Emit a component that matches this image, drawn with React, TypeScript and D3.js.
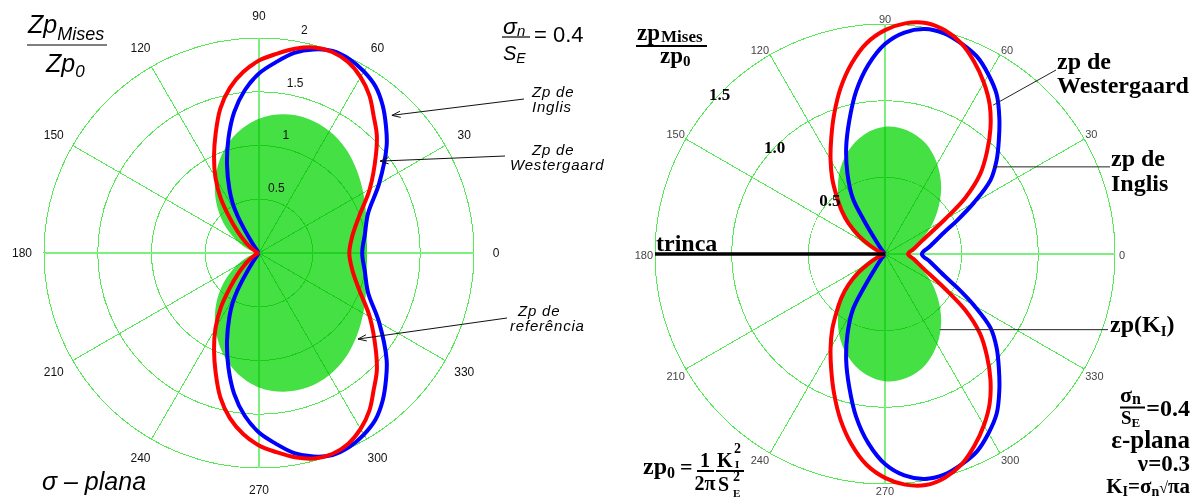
import React from 'react';
import * as d3 from 'd3';

// ---------- data (upper half, degrees 0..180; lower half is the mirror image) ----------
const spokeAngles = [0, 30, 60, 90, 120, 150, 180, 210, 240, 270, 300, 330];

const leftRings = [0.5, 1, 1.5, 2];
const leftRingLabels = ['0.5', '1', '1.5', '2'];
const rightRings = [0.5, 1.0, 1.5];
const rightRingLabels = ['0.5', '1.0', '1.5'];

// reference plastic zone (LEFM, K_I only)
const refAngles = [0, 10, 20, 30, 40, 50, 60, 70, 80, 90, 100, 110, 120, 130, 140, 150, 160, 170, 180];
const leftRef = [1.0, 1.02, 1.06, 1.12, 1.19, 1.26, 1.31, 1.33, 1.31, 1.25, 1.14, 0.99, 0.81, 0.62, 0.43, 0.25, 0.12, 0.03, 0];
const rightRef = [0.16, 0.18, 0.24, 0.34, 0.45, 0.57, 0.68, 0.77, 0.82, 0.83, 0.79, 0.71, 0.6, 0.47, 0.33, 0.2, 0.09, 0.02, 0];

// sigma-plane: Westergaard (red) and Inglis (blue)
const leftWestAngles = [0, 10, 20, 30, 40, 45, 50, 55, 60, 65, 70, 75, 80, 85, 90, 95, 100, 105, 110, 115, 120, 125, 130, 135, 140, 145, 150, 160, 170, 180];
const leftWest = [0.84, 0.88, 0.99, 1.19, 1.42, 1.55, 1.66, 1.79, 1.89, 1.96, 1.99, 1.98, 1.93, 1.86, 1.79, 1.69, 1.56, 1.39, 1.18, 0.99, 0.81, 0.62, 0.42, 0.28, 0.18, 0.11, 0.06, 0.015, 0, 0];
const leftInglisAngles = [0, 10, 20, 30, 40, 45, 50, 55, 60, 65, 70, 75, 80, 85, 90, 95, 100, 105, 110, 115, 118, 120, 122, 124, 127, 130, 140, 160, 180];
const leftInglis = [0.96, 1.0, 1.08, 1.29, 1.55, 1.67, 1.79, 1.89, 1.95, 1.99, 2.0, 1.96, 1.89, 1.78, 1.67, 1.52, 1.33, 1.1, 0.87, 0.65, 0.52, 0.4, 0.24, 0.11, 0.03, 0.01, 0, 0, 0];

// epsilon-plane: Westergaard (red) and Inglis (blue)
const rightWestAngles = [0, 10, 20, 30, 35, 40, 45, 50, 55, 60, 65, 70, 75, 80, 85, 90, 95, 100, 105, 110, 115, 120, 125, 130, 135, 140, 145, 150, 155, 160, 170, 180];
const rightWest = [0.15, 0.19, 0.26, 0.45, 0.64, 0.81, 0.94, 1.07, 1.19, 1.29, 1.38, 1.46, 1.51, 1.53, 1.51, 1.46, 1.38, 1.26, 1.12, 0.97, 0.83, 0.71, 0.6, 0.49, 0.4, 0.31, 0.21, 0.12, 0.06, 0.02, 0, 0];
const rightInglisAngles = [0, 10, 20, 25, 30, 35, 40, 45, 50, 55, 60, 65, 70, 75, 80, 85, 90, 95, 100, 105, 110, 115, 120, 122, 124, 127, 130, 140, 160, 180];
const rightInglis = [0.24, 0.3, 0.41, 0.52, 0.67, 0.84, 0.95, 1.05, 1.16, 1.27, 1.35, 1.42, 1.46, 1.49, 1.49, 1.45, 1.37, 1.24, 1.08, 0.9, 0.74, 0.58, 0.42, 0.26, 0.12, 0.04, 0.01, 0, 0, 0];

// ---------- helpers ----------
const deg = Math.PI / 180;
type Pt = [number, number];

function makePolar(cx: number, cy: number, R: number, rMax: number, rings: number[]) {
  const r = d3.scaleLinear().domain([0, rMax]).range([0, R]);
  const xy = (a: number, v: number): Pt => [cx + r(v) * Math.cos(a * deg), cy - r(v) * Math.sin(a * deg)];
  const line = d3
    .lineRadial<Pt>()
    .angle((d) => Math.PI / 2 - d[0] * deg)
    .radius((d) => r(d[1]))
    .curve(d3.curveCatmullRom.alpha(0.5));
  return { cx, cy, R, rMax, rings, r, xy, line };
}
type Polar = ReturnType<typeof makePolar>;

function mirror(angles: number[], values: number[]): Pt[] {
  const upper: Pt[] = angles.map((a, i) => [a, values[i]]);
  const lower: Pt[] = upper.slice(1).map(([a, v]) => [-a, v] as Pt).reverse();
  return [...lower, ...upper];
}

function arrowPath(x1: number, y1: number, x2: number, y2: number, len = 9, half = 0.35) {
  const ang = Math.atan2(y1 - y2, x1 - x2);
  const ax = x2 + len * Math.cos(ang + half);
  const ay = y2 + len * Math.sin(ang + half);
  const bx = x2 + len * Math.cos(ang - half);
  const by = y2 + len * Math.sin(ang - half);
  return `M${x1},${y1}L${x2},${y2}M${ax},${ay}L${x2},${y2}L${bx},${by}`;
}

const GRID = '#55ea55';
const AXIS = '#7cf07c';
const FILL = '#44e044';

function Grid({ p }: { p: Polar }) {
  return (
    <g style={{ mixBlendMode: 'multiply' }} fill="none" shapeRendering="crispEdges">
      {p.rings.map((v) => (
        <circle key={v} cx={p.cx} cy={p.cy} r={p.r(v)} stroke={GRID} strokeWidth={1} />
      ))}
      {spokeAngles.map((a) => {
        const [x, y] = p.xy(a, p.rMax);
        const axis = a % 90 === 0;
        return (
          <line key={a} x1={p.cx} y1={p.cy} x2={x} y2={y} stroke={axis ? AXIS : GRID} strokeWidth={axis ? 2 : 1} />
        );
      })}
    </g>
  );
}

function Curves({ p, refV, westA, westV, ingA, ingV }: { p: Polar; refV: number[]; westA: number[]; westV: number[]; ingA: number[]; ingV: number[] }) {
  return (
    <>
      <g transform={`translate(${p.cx},${p.cy})`}>
        <path d={p.line(mirror(refAngles, refV)) || ''} fill={FILL} stroke="none" />
      </g>
      <Grid p={p} />
      <g transform={`translate(${p.cx},${p.cy})`} fill="none" strokeLinejoin="round">
        <path d={p.line(mirror(ingA, ingV)) || ''} stroke="#0000ff" strokeWidth={4} />
        <path d={p.line(mirror(westA, westV)) || ''} stroke="#ff0000" strokeWidth={4} />
      </g>
    </>
  );
}

const SANS = 'Liberation Sans, Arial, sans-serif';
const SERIF = 'Liberation Serif, Times New Roman, serif';

export default function App() {
  const L = makePolar(259, 253, 215, 2, leftRings);
  const Rp = makePolar(885, 254, 230, 1.5, rightRings);

  // left angle labels: centred just outside the outer ring
  const leftAngleLabels = spokeAngles.map((a) => {
    const r = L.R + 22;
    return { a, x: L.cx + r * Math.cos(a * deg), y: L.cy - r * Math.sin(a * deg) };
  });

  // right angle labels: anchored at the spoke ends
  const rightAngleLabels = spokeAngles.map((a) => {
    const [x, y] = Rp.xy(a, Rp.rMax);
    const c = Math.cos(a * deg);
    const s = Math.sin(a * deg);
    const anchor = c > 0.01 ? 'start' : c < -0.01 ? 'end' : 'middle';
    let dx = c > 0.01 ? 1 : c < -0.01 ? -1 : 0;
    if (a === 0) dx = 4;
    if (a === 180) dx = -2;
    const base = s > 0.01 ? 'alphabetic' : s < -0.01 ? 'hanging' : 'central';
    const dy = s > 0.01 ? -1 : s < -0.01 ? 3 : 1;
    return { a, x: x + dx, y: y + dy, anchor, base };
  });

  // annotation anchors (angle, value) on the curves
  const lInglisTip = L.xy(46, 1.78);
  const lWestTip = L.xy(37.2, 1.414);
  const lRefTip = L.xy(-41, 1.22);
  const rWestTip = Rp.xy(54, 1.2);
  const rInglisTip = Rp.xy(38.9, 0.905);
  const rRefTip = Rp.xy(-54, 0.61);
  const crackEnd = Rp.xy(180, Rp.rMax);

  return (
    <svg width={1200} height={499} style={{ position: 'absolute', left: 0, top: 0, background: '#fff' }}>
      <rect width={1200} height={499} fill="#fff" />

      {/* ---------------- left: sigma-plane ---------------- */}
      <Curves p={L} refV={leftRef} westA={leftWestAngles} westV={leftWest} ingA={leftInglisAngles} ingV={leftInglis} />

      <g fontFamily={SANS} fontSize={12} fill="#111">
        {leftAngleLabels.map((d) => (
          <text key={d.a} x={d.x} y={d.y} textAnchor="middle" dominantBaseline="central">
            {d.a}
          </text>
        ))}
        {leftRings.map((v, i) => {
          const [x, y] = L.xy(80, v + 0.11);
          return (
            <text key={v} x={x + 6} y={y} textAnchor="middle" dominantBaseline="central">
              {leftRingLabels[i]}
            </text>
          );
        })}
      </g>

      <g fontFamily={SANS} fontStyle="italic" fill="#000">
        <text x={28} y={33} fontSize={25}>
          Zp<tspan fontSize={18} dy={7}>Mises</tspan>
        </text>
        <line x1={27} y1={45} x2={107} y2={45} stroke="#000" strokeWidth={1.2} />
        <text x={46} y={72} fontSize={25}>
          Zp<tspan fontSize={17} dy={5}>0</tspan>
        </text>

        <text x={503} y={34} fontSize={23}>
          σ<tspan fontSize={15} dy={2}>n</tspan>
        </text>
        <line x1={502} y1={37} x2={530} y2={37} stroke="#000" strokeWidth={1.2} />
        <text x={503} y={60} fontSize={20}>
          S<tspan fontSize={14} dy={3}>E</tspan>
        </text>
        <text x={534} y={42} fontSize={22} fontStyle="normal">= 0.4</text>

        <g fontSize={15} letterSpacing={0.8}>
          <text x={532} y={97}>Zp de</text>
          <text x={532} y={112}>Inglis</text>
          <text x={532} y={155}>Zp de</text>
          <text x={510} y={170}>Westergaard</text>
          <text x={518} y={316}>Zp de</text>
          <text x={510} y={331}>referência</text>
        </g>

        <text x={42} y={490} fontSize={25}>σ – plana</text>
      </g>

      <g fill="none" stroke="#111" strokeWidth={1}>
        <path d={arrowPath(524, 99, lInglisTip[0], lInglisTip[1])} />
        <path d={arrowPath(505, 156, lWestTip[0], lWestTip[1])} />
        <path d={arrowPath(507, 318, lRefTip[0], lRefTip[1])} />
      </g>

      {/* ---------------- right: epsilon-plane ---------------- */}
      <Curves p={Rp} refV={rightRef} westA={rightWestAngles} westV={rightWest} ingA={rightInglisAngles} ingV={rightInglis} />

      <line x1={crackEnd[0]} y1={crackEnd[1]} x2={Rp.cx} y2={Rp.cy} stroke="#000" strokeWidth={3.5} />

      <g fontFamily={SANS} fontSize={11} fill="#444">
        {rightAngleLabels.map((d) => (
          <text key={d.a} x={d.x} y={d.y} textAnchor={d.anchor} dominantBaseline={d.base as any}>
            {d.a}
          </text>
        ))}
      </g>

      <g fontFamily={SERIF} fontWeight="bold" fill="#000">
        {rightRings.map((v, i) => {
          const [x, y] = Rp.xy(136, v);
          return (
            <text key={v} x={x} y={y} textAnchor="middle" dominantBaseline="central" fontSize={17}>
              {rightRingLabels[i]}
            </text>
          );
        })}

        <text x={637} y={40} fontSize={23}>
          zp<tspan fontSize={17} dx={1} dy={2}>Mises</tspan>
        </text>
        <line x1={636} y1={46} x2={707} y2={46} stroke="#000" strokeWidth={2} />
        <text x={660} y={63} fontSize={23}>
          zp<tspan fontSize={15} dy={3}>0</tspan>
        </text>

        <text x={656} y={251} fontSize={24}>trinca</text>

        <text x={1057} y={69} fontSize={24}>zp de</text>
        <text x={1057} y={93} fontSize={24}>Westergaard</text>
        <text x={1111} y={166} fontSize={24}>zp de</text>
        <text x={1111} y={191} fontSize={24}>Inglis</text>
        <text x={1110} y={332} fontSize={24}>
          zp(K<tspan fontSize={15} dy={4}>I</tspan>
          <tspan dy={-4}>)</tspan>
        </text>

        {/* sigma_n / S_E = 0.4 */}
        <text x={1120} y={402} fontSize={22}>
          σ<tspan fontSize={16} dy={2}>n</tspan>
        </text>
        <line x1={1120} y1={407.5} x2={1145} y2={407.5} stroke="#000" strokeWidth={2} />
        <text x={1121} y={424} fontSize={19}>
          S<tspan fontSize={13} dy={3}>E</tspan>
        </text>
        <text x={1190} y={416} fontSize={24} textAnchor="end">=0.4</text>
        <text x={1190} y={448} fontSize={25} textAnchor="end">ε-plana</text>
        <text x={1190} y={471} fontSize={23} textAnchor="end">ν=0.3</text>
        <text x={1190} y={493} fontSize={21} textAnchor="end">
          K<tspan fontSize={14} dy={3}>I</tspan>
          <tspan dy={-3}>=σ</tspan>
          <tspan fontSize={14} dy={3}>n</tspan>
          <tspan dy={-3} fontSize={16} fontWeight="normal">√</tspan>
          <tspan>πa</tspan>
        </text>

        {/* zp0 = (1/2π) K_I² / S_E² */}
        <text x={643} y={474} fontSize={24}>
          zp<tspan fontSize={16} dy={4}>0</tspan>
        </text>
        <text x={680} y={474} fontSize={22}>=</text>
        <text x={705} y={467} fontSize={20} textAnchor="middle">1</text>
        <line x1={697} y1={471} x2={714} y2={471} stroke="#000" strokeWidth={2} />
        <text x={705} y={490} fontSize={20} textAnchor="middle">2π</text>
        <text x={717} y={467} fontSize={20}>K</text>
        <text x={734} y={453} fontSize={14}>2</text>
        <text x={735} y={468} fontSize={11}>I</text>
        <line x1={716} y1={471} x2={744} y2={471} stroke="#000" strokeWidth={2} />
        <text x={718} y={491} fontSize={20}>S</text>
        <text x={733} y={481} fontSize={14}>2</text>
        <text x={733} y={497} fontSize={11}>E</text>
      </g>

      <g fill="none" stroke="#222" strokeWidth={1}>
        <line x1={1056} y1={70} x2={rWestTip[0]} y2={rWestTip[1]} />
        <line x1={1110} y1={rInglisTip[1]} x2={rInglisTip[0]} y2={rInglisTip[1]} />
        <line x1={1108} y1={rRefTip[1]} x2={rRefTip[0]} y2={rRefTip[1]} />
      </g>
    </svg>
  );
}
